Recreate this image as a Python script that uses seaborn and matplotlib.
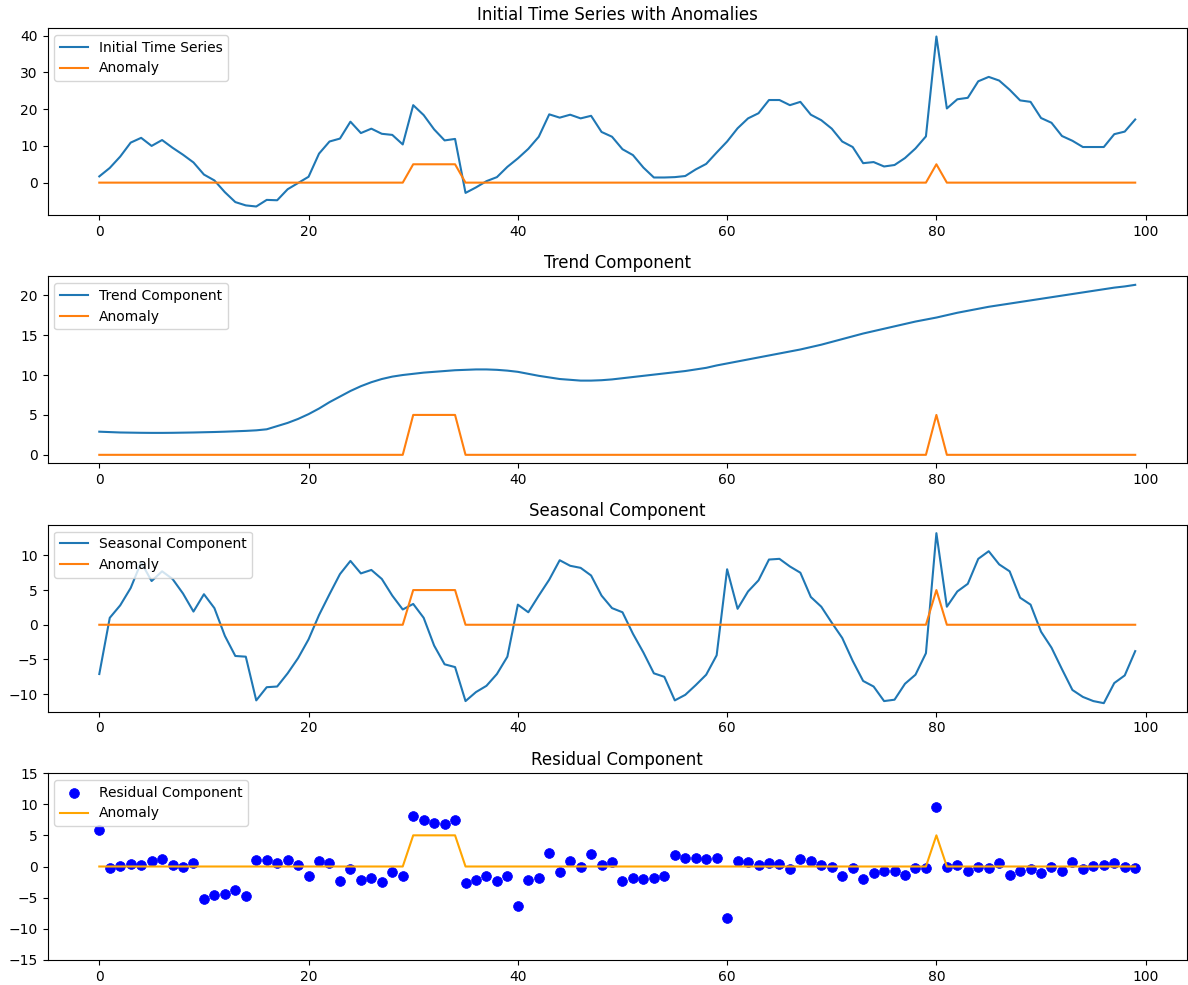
import numpy as np
import pandas as pd
import matplotlib
matplotlib.use("Agg")
import matplotlib.pyplot as plt
import seaborn as sns

time_index = list(range(100))

initial_series = [
    1.7, 4.0, 7.1, 10.9, 12.2, 10.0, 11.6, 9.5, 7.6, 5.5,
    2.2, 0.6, -2.6, -5.3, -6.2, -6.5, -4.7, -4.8, -1.8, -0.1,
    1.6, 7.9, 11.2, 12.0, 16.6, 13.5, 14.7, 13.3, 13.0, 10.4,
    21.1, 18.4, 14.5, 11.5, 11.9, -2.8, -1.3, 0.4, 1.5, 4.3,
    6.6, 9.2, 12.5, 18.6, 17.7, 18.5, 17.5, 18.2, 13.8, 12.5,
    9.1, 7.5, 4.1, 1.4, 1.4, 1.5, 1.8, 3.6, 5.1, 8.2,
    11.2, 14.8, 17.5, 18.9, 22.5, 22.5, 21.1, 22.0, 18.5, 17.0,
    14.7, 11.2, 9.7, 5.3, 5.6, 4.4, 4.8, 6.7, 9.3, 12.6,
    39.8, 20.2, 22.7, 23.1, 27.6, 28.8, 27.8, 25.3, 22.4, 22.0,
    17.6, 16.3, 12.7, 11.4, 9.7, 9.7, 9.7, 13.2, 13.9, 17.2,
]

trend_component = [
    2.9, 2.85, 2.8, 2.78, 2.76, 2.75, 2.75, 2.76, 2.78, 2.8,
    2.83, 2.86, 2.9, 2.95, 3.0, 3.07, 3.2, 3.6, 4.0, 4.5,
    5.1, 5.8, 6.6, 7.3, 8.0, 8.6, 9.1, 9.5, 9.8, 10.0,
    10.15, 10.3, 10.4, 10.5, 10.6, 10.65, 10.7, 10.7, 10.65, 10.55,
    10.4, 10.15, 9.9, 9.7, 9.5, 9.4, 9.3, 9.3, 9.35, 9.45,
    9.6, 9.75, 9.9, 10.05, 10.2, 10.35, 10.5, 10.7, 10.9, 11.2,
    11.45, 11.7, 11.95, 12.2, 12.45, 12.7, 12.95, 13.2, 13.5, 13.8,
    14.15, 14.5, 14.85, 15.2, 15.5, 15.8, 16.1, 16.4, 16.7, 16.95,
    17.2, 17.5, 17.8, 18.05, 18.3, 18.55, 18.75, 18.95, 19.15, 19.35,
    19.55, 19.75, 19.95, 20.15, 20.35, 20.55, 20.75, 20.95, 21.1, 21.3,
]

seasonal_component = [
    -7.1, 1.0, 2.8, 5.3, 9.0, 6.3, 7.7, 6.6, 4.5, 1.9,
    4.4, 2.4, -1.6, -4.5, -4.6, -10.9, -9.0, -8.9, -7.0, -4.8,
    -2.1, 1.4, 4.4, 7.3, 9.2, 7.4, 7.9, 6.6, 4.2, 2.2,
    3.0, 1.0, -3.0, -5.7, -6.1, -11.0, -9.7, -8.8, -7.1, -4.6,
    2.9, 1.8, 4.2, 6.5, 9.3, 8.5, 8.2, 7.1, 4.2, 2.4,
    1.8, -1.3, -4.0, -7.0, -7.5, -10.9, -10.1, -8.7, -7.2, -4.4,
    8.0, 2.3, 4.8, 6.4, 9.4, 9.5, 8.4, 7.5, 4.0, 2.6,
    0.3, -1.9, -5.2, -8.1, -8.9, -11.0, -10.8, -8.5, -7.2, -4.1,
    13.2, 2.6, 4.8, 5.9, 9.5, 10.6, 8.7, 7.7, 3.9, 2.9,
    -1.0, -3.3, -6.4, -9.4, -10.4, -11.0, -11.3, -8.4, -7.3, -3.8,
]

residual_component = [
    5.9, -0.2, 0.1, 0.4, 0.2, 0.9, 1.2, 0.3, 0.0, 0.6,
    -5.2, -4.6, -4.4, -3.8, -4.8, 1.0, 1.0, 0.5, 1.0, 0.3,
    -1.5, 0.9, 0.5, -2.4, -0.4, -2.2, -1.9, -2.5, -0.9, -1.6,
    8.1, 7.5, 7.0, 6.8, 7.4, -2.6, -2.2, -1.5, -2.3, -1.5,
    -6.3, -2.2, -1.8, 2.2, -0.9, 0.9, 0.0, 2.0, 0.2, 0.8,
    -2.3, -1.8, -2.0, -1.8, -1.6, 1.9, 1.3, 1.4, 1.2, 1.4,
    -8.2, 0.9, 0.8, 0.3, 0.6, 0.4, -0.4, 1.2, 0.9, 0.3,
    -0.1, -1.5, -0.2, -2.0, -1.1, -0.7, -0.7, -1.3, -0.2, -0.2,
    9.5, 0.0, 0.2, -0.8, -0.1, -0.2, 0.6, -1.4, -0.7, -0.4,
    -1.0, 0.0, -0.7, 0.7, -0.4, 0.1, 0.3, 0.6, 0.0, -0.3,
]

anomaly = [0] * 100
for i in [30, 31, 32, 33, 34, 80]:
    anomaly[i] = 5

df = pd.DataFrame({
    "t": time_index,
    "initial": initial_series,
    "trend": trend_component,
    "seasonal": seasonal_component,
    "resid": residual_component,
    "anomaly": anomaly,
})

W, H = 1188, 985
fig, axes = plt.subplots(4, 1, figsize=(W / 100, H / 100), dpi=100)

panels = [
    ("initial", "Initial Time Series", "Initial Time Series with Anomalies"),
    ("trend", "Trend Component", "Trend Component"),
    ("seasonal", "Seasonal Component", "Seasonal Component"),
]
for ax, (col, lab, title) in zip(axes[:3], panels):
    sns.lineplot(data=df, x="t", y=col, ax=ax, color="#1f77b4", label=lab)
    sns.lineplot(data=df, x="t", y="anomaly", ax=ax, color="#ff7f0e", label="Anomaly")
    ax.set_title(title, fontsize=12)
    ax.set_xlabel("")
    ax.set_ylabel("")
    ax.legend(loc="upper left", fontsize=10)

ax = axes[3]
sns.scatterplot(data=df, x="t", y="resid", ax=ax, color="blue", s=50,
                edgecolor="blue", linewidth=0.5, label="Residual Component")
sns.lineplot(data=df, x="t", y="anomaly", ax=ax, color="orange", label="Anomaly")
ax.set_title("Residual Component", fontsize=12)
ax.set_xlabel("")
ax.set_ylabel("")
ax.set_ylim(-15, 15)
ax.legend(loc="upper left", fontsize=10)

for a in axes:
    a.tick_params(labelsize=10)
    a.set_xticks([0, 20, 40, 60, 80, 100])

fig.subplots_adjust(left=47.5 / W, right=1187 / W, top=1 - 28 / H,
                    bottom=1 - 960 / H, hspace=0.328)
fig.savefig("out.png", dpi=100)
